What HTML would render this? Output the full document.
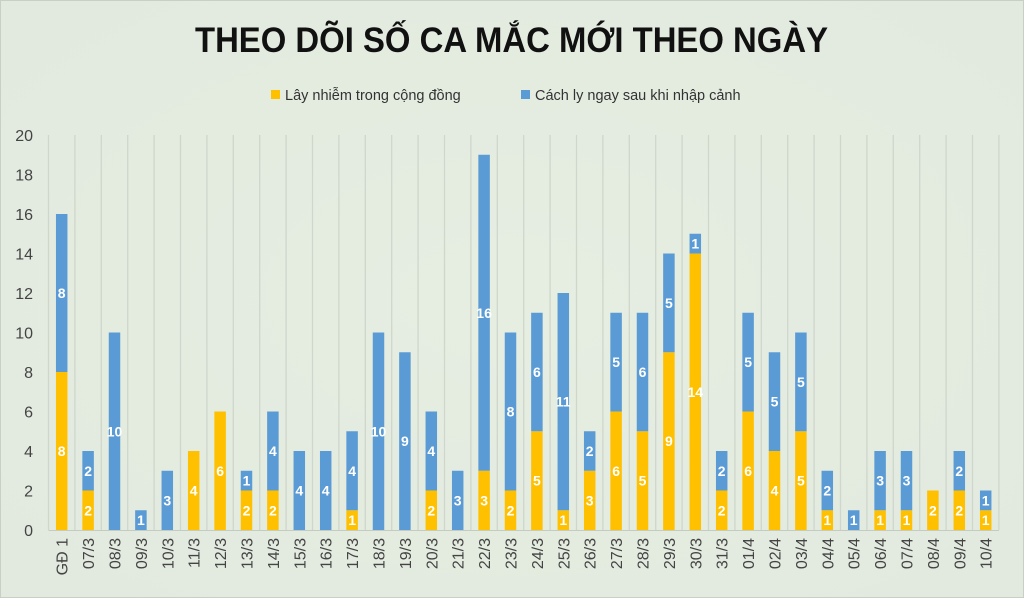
<!DOCTYPE html><html><head><meta charset="utf-8"><style>body{margin:0;background:#fff}svg{display:block}</style></head><body>
<svg width="1024" height="598" xmlns="http://www.w3.org/2000/svg" font-family="'Liberation Sans','Noto Sans CJK SC',sans-serif">
<defs><radialGradient id="bg" cx="0.5" cy="0.5" r="0.7"><stop offset="0" stop-color="#e6eee2"/><stop offset="1" stop-color="#e2eadf"/></radialGradient></defs>
<rect x="0" y="0" width="1024" height="598" fill="url(#bg)"/>
<rect x="0.5" y="0.5" width="1023" height="597" fill="none" stroke="#c8cfc4"/>
<text x="195" y="52" textLength="633" lengthAdjust="spacingAndGlyphs" font-size="35" font-weight="bold" fill="#111">THEO DÕI SỐ CA MẮC MỚI THEO NGÀY</text>
<rect x="271" y="90" width="9" height="9" fill="#ffc000"/><text x="285" y="100" font-size="14.5" fill="#333">Lây nhiễm trong cộng đồng</text>
<rect x="521" y="90" width="9" height="9" fill="#5b9bd5"/><text x="535" y="100" font-size="14.5" fill="#333">Cách ly ngay sau khi nhập cảnh</text>
<g id="g"></g>
</svg>
<script>
var d=[["GĐ 1",8,8],["07/3",2,2],["08/3",0,10],["09/3",0,1],["10/3",0,3],["11/3",4,0],["12/3",6,0],["13/3",2,1],["14/3",2,4],["15/3",0,4],["16/3",0,4],["17/3",1,4],["18/3",0,10],["19/3",0,9],["20/3",2,4],["21/3",0,3],["22/3",3,16],["23/3",2,8],["24/3",5,6],["25/3",1,11],["26/3",3,2],["27/3",6,5],["28/3",5,6],["29/3",9,5],["30/3",14,1],["31/3",2,2],["01/4",6,5],["02/4",4,5],["03/4",5,5],["04/4",1,2],["05/4",0,1],["06/4",1,3],["07/4",1,3],["08/4",2,0],["09/4",2,2],["10/4",1,1]];
var s='',x0=48.5,w=26.4,y0=530,u=19.75;
for(var i=0;i<=36;i++){var x=x0+i*w;s+='<line x1="'+x+'" y1="135" x2="'+x+'" y2="530" stroke="#cfd6cc" stroke-width="1.3"/>';}
s+='<line x1="'+x0+'" y1="530.5" x2="'+(x0+36*w)+'" y2="530.5" stroke="#c4cbc1"/>';
for(var v=0;v<=20;v+=2){s+='<text x="33" y="'+(y0-v*u+6)+'" text-anchor="end" font-size="16" fill="#444">'+v+'</text>';}
d.forEach(function(r,i){var c=x0+i*w+w/2,bw=11.5,a=r[1],b=r[2];
if(a){s+='<rect x="'+(c-bw/2)+'" y="'+(y0-a*u)+'" width="'+bw+'" height="'+(a*u)+'" fill="#ffc000"/>';s+='<text x="'+c+'" y="'+(y0-a*u/2+5)+'" text-anchor="middle" font-size="14" font-weight="bold" fill="#fff">'+a+'</text>';}
if(b){var t=y0-(a+b)*u;s+='<rect x="'+(c-bw/2)+'" y="'+t+'" width="'+bw+'" height="'+(b*u)+'" fill="#5b9bd5"/>';s+='<text x="'+c+'" y="'+(t+b*u/2+5)+'" text-anchor="middle" font-size="14" font-weight="bold" fill="#fff">'+b+'</text>';}
s+='<text transform="translate('+(c+6)+',538) rotate(-90)" text-anchor="end" font-size="16" fill="#444">'+r[0]+'</text>';});
document.getElementById('g').innerHTML=s;
</script>
</body></html>
